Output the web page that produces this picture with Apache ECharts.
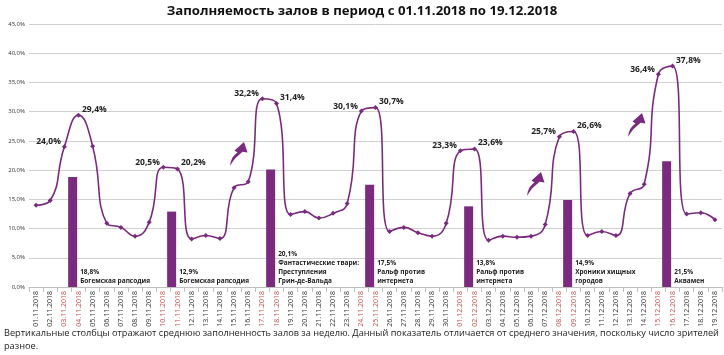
<!DOCTYPE html>
<html><head><meta charset="utf-8">
<script src="https://cdn.jsdelivr.net/npm/echarts@6/dist/echarts.min.js"></script>
<style>html,body{margin:0;padding:0;background:#fff}#c{width:724px;height:355px}</style>
</head><body><div id="c"></div>
<script>
const dates = ["01.11.2018","02.11.2018","03.11.2018","04.11.2018","05.11.2018","06.11.2018","07.11.2018","08.11.2018","09.11.2018","10.11.2018","11.11.2018","12.11.2018","13.11.2018","14.11.2018","15.11.2018","16.11.2018","17.11.2018","18.11.2018","19.11.2018","20.11.2018","21.11.2018","22.11.2018","23.11.2018","24.11.2018","25.11.2018","26.11.2018","27.11.2018","28.11.2018","29.11.2018","30.11.2018","01.12.2018","02.12.2018","03.12.2018","04.12.2018","05.12.2018","06.12.2018","07.12.2018","08.12.2018","09.12.2018","10.12.2018","11.12.2018","12.12.2018","13.12.2018","14.12.2018","15.12.2018","16.12.2018","17.12.2018","18.12.2018","19.12.2018"];
const weekendDates = ["03.11.2018","04.11.2018","10.11.2018","11.11.2018","17.11.2018","18.11.2018","24.11.2018","25.11.2018","01.12.2018","02.12.2018","08.12.2018","09.12.2018","15.12.2018","16.12.2018"];
const dailyFill = [14.0,14.8,24.0,29.4,24.1,10.9,10.2,8.7,11.1,20.5,20.2,8.2,8.8,8.3,17.0,18.0,32.2,31.4,12.4,12.9,11.8,12.6,14.3,30.1,30.7,9.5,10.2,9.3,8.7,10.9,23.3,23.6,8.0,8.7,8.5,8.7,10.7,25.7,26.6,8.8,9.5,8.8,16.0,17.6,36.4,37.8,12.5,12.7,11.5];
const weekDates = ["04.11.2018","11.11.2018","18.11.2018","25.11.2018","02.12.2018","09.12.2018","16.12.2018"];
const weekFill = [18.8,12.9,20.1,17.5,13.8,14.9,21.5];
const weekFilms = ["Богемская рапсодия","Богемская рапсодия","Фантастические твари:\nПреступления\nГрин-де-Вальда","Ральф против\nинтернета","Ральф против\nинтернета","Хроники хищных\nгородов","Аквамен"];
const yTicks = {min:0, max:45, interval:5};
const title = "Заполняемость залов в период с 01.11.2018 по 19.12.2018";
const note1 = "Вертикальные столбцы отражают среднюю заполненность залов за неделю. Данный показатель отличается от среднего значения, поскольку число зрителей";
const note2 = "разное.";

const purple = '#7A2B7E';
const fmt = v => v.toFixed(1).replace('.', ',') + '%';

const lineData = dailyFill.map((v, i) => {
  const d = dates[i];
  const wi = weekendDates.indexOf(d);
  if (wi < 0) return v;
  const isSat = wi % 2 === 0;
  return {value: v, label: {show: true, position: isSat ? 'left' : 'right', distance: 1,
    offset: isSat ? [0, -5] : [0, -6], formatter: p => fmt(p.value),
    fontSize: 8.5, fontWeight: 'bold', color: '#222', fontFamily: 'Open Sans'}};
});
const barData = dates.map(d => {
  const k = weekDates.indexOf(d);
  return k < 0 ? null : {value: weekFill[k], film: weekFilms[k]};
});

const arrowShape = [[0,24],[0.8,19.5],[2.5,15.5],[5,12.5],[7.5,10.5],[4.5,8.5],[14,0],[17.5,10.5],[12.5,9.8],[9.5,12.5],[5.5,16],[2.5,20]];
function arrow(x, y) {
  return {type: 'polygon', x: x, y: y, shape: {points: arrowShape, smooth: 0},
    style: {fill: purple}, z: 10};
}

const chart = echarts.init(document.getElementById('c'));
chart.setOption({
  animation: false,
  textStyle: {fontFamily: 'Open Sans'},
  title: {text: title, left: 'center', top: 0,
    textStyle: {fontSize: 13.2, fontWeight: 'bold', color: '#111', fontFamily: 'Open Sans'}},
  grid: {left: 29, right: 2, top: 24, bottom: 68},
  xAxis: {type: 'category', data: dates, boundaryGap: true,
    axisLine: {lineStyle: {color: '#bfbfbf'}}, axisTick: {show: true, alignWithLabel: false, lineStyle: {color: '#bfbfbf'}},
    axisLabel: {rotate: 90, interval: 0, fontSize: 7, margin: 4,
      color: (v) => weekendDates.indexOf(v) >= 0 ? '#C0504D' : '#333'}},
  yAxis: {type: 'value', min: yTicks.min, max: yTicks.max, interval: yTicks.interval,
    axisLine: {show: false}, axisTick: {show: false},
    splitLine: {lineStyle: {color: '#d0d0d0'}},
    axisLabel: {fontSize: 6, color: '#333', margin: 4, formatter: v => fmt(v)}},
  series: [
    {type: 'bar', data: barData, barWidth: 9, barGap: '30%', itemStyle: {color: purple},
      label: {show: true, position: ['100%', '100%'], align: 'left', verticalAlign: 'bottom', offset: [3, -1],
        formatter: p => p.data ? fmt(p.data.value) + '\n' + p.data.film : '',
        fontSize: 6.5, fontWeight: 'bold', lineHeight: 9, color: '#222', fontFamily: 'Open Sans'}},
    {type: 'bar', data: dates.map(() => null), barWidth: 9},
    {type: 'line', data: lineData, smooth: 0.5, symbol: 'diamond', symbolSize: 5, z: 5,
      lineStyle: {color: purple, width: 1.6}, itemStyle: {color: purple}}
  ],
  graphic: [
    arrow(230, 142), arrow(527, 172), arrow(628, 113),
    {type: 'text', left: 4, top: 327, style: {text: note1 + '\n' + note2, fontSize: 9.2, lineHeight: 13,
      fill: '#222', fontFamily: 'Open Sans'}}
  ]
});
</script></body></html>
